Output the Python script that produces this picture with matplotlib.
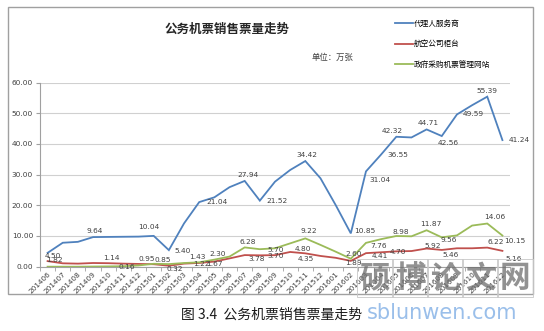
import numpy as np
import matplotlib
matplotlib.use('Agg')
import matplotlib.pyplot as plt
from matplotlib.patches import Rectangle

plt.rcParams['font.family'] = ['Noto Sans CJK SC', 'DejaVu Sans']

# Data (万张)
months = ['201406', '201407', '201408', '201409', '201410', '201411', '201412',
          '201501', '201502', '201503', '201504', '201505', '201506', '201507',
          '201508', '201509', '201510', '201511', '201512', '201601', '201602',
          '201603', '201604', '201605', '201606', '201607', '201608', '201609',
          '201610', '201611', '201612']
agent = [4.50, 7.8, 8.1, 9.64, 9.7, 9.75, 9.8, 10.04, 5.40, 14.1, 21.04, 22.6,
         25.9, 27.94, 21.52, 27.7, 31.5, 34.42, 28.8, 20.1, 10.85, 31.04, 36.55,
         42.32, 42.1, 44.71, 42.56, 49.59, 52.6, 55.39, 41.24]
airline = [1.82, 1.1, 1.0, 1.2, 1.14, 1.0, 0.9, 0.8, 0.32, 1.0, 1.22, 1.67,
           2.7, 3.78, 3.70, 3.75, 4.80, 4.35, 3.5, 2.9, 1.89, 4.41, 4.70,
           5.0, 5.1, 5.92, 5.46, 6.0, 6.0, 6.22, 5.16]
gov_site = [0.0, 0.0, 0.0, 0.05, 0.1, 0.16, 0.4, 0.95, 0.85, 1.2, 1.43, 2.30,
            3.3, 6.28, 5.70, 6.0, 7.6, 9.22, 7.1, 4.9, 2.60, 7.76, 8.98,
            10.0, 9.9, 11.87, 9.56, 10.2, 13.4, 14.06, 10.15]
series_names = ['代理人服务商', '航空公司柜台', '政府采购机票管理网站']

# which points carry a data label
agent_lbl = [0, 3, 7, 8, 10, 13, 14, 17, 20, 21, 22, 23, 25, 26, 27, 29, 30]
airline_lbl = [0, 4, 8, 10, 11, 13, 14, 16, 17, 20, 21, 22, 25, 26, 29, 30]
gov_lbl = [5, 7, 8, 10, 11, 13, 14, 17, 20, 21, 22, 25, 26, 29, 30]

# label offsets in pixels (dx right, dy down)
agent_off = {0: (5, 3), 3: (2, -6), 7: (-5, -9), 8: (14, 1), 10: (18, 0),
             13: (3, -6), 14: (17, 0), 17: (2, -6), 20: (14, -2), 21: (14, 9),
             22: (17, 1), 23: (-4, -6), 25: (2, -6), 26: (6, 7), 27: (16, 0),
             29: (0, -6), 30: (17, 0)}
airline_off = {0: (7, -1), 4: (3, -5), 8: (6, 3), 10: (2, 1), 11: (0, 2),
               13: (12, 4), 14: (16, 1), 16: (13, -3), 17: (0, 6), 20: (3, 2),
               21: (14, 3), 22: (17, 0), 25: (6, -3), 26: (9, 5), 29: (8, -6),
               30: (11, 8)}
gov_off = {5: (3, 1), 7: (-7, -5), 8: (-6, -4), 10: (-2, -5), 11: (3, -6),
           13: (3, -5), 14: (16, 1), 17: (3, -7), 20: (3, -5), 21: (13, 3),
           22: (20, -7), 25: (4, -6), 26: (7, 3), 29: (7, -7), 30: (12, 5)}

W, H = 544, 331
fig = plt.figure(figsize=(W / 100, H / 100), dpi=100)
ax = fig.add_axes([40 / W, 1 - 266.7 / H, 470 / W, (266.7 - 82.5) / H])

x = np.arange(len(months))
colors = ['#4F81BD', '#C0504D', '#9BBB59']
all_series = [agent, airline, gov_site]
for vals, col, name in zip(all_series, colors, series_names):
    ax.plot(x, vals, color=col, lw=1.3, label=name, solid_joinstyle='miter')

px = 0.72  # pixel -> points
for vals, idxs, offs in [(agent, agent_lbl, agent_off), (airline, airline_lbl, airline_off),
                         (gov_site, gov_lbl, gov_off)]:
    for i in idxs:
        dx, dy = offs[i]
        ax.annotate(f"{vals[i]:.2f}", (x[i], vals[i]), xytext=(dx * px, -dy * px),
                    textcoords='offset points', ha='center', va='center',
                    fontsize=5.3, color='#404040', family=['DejaVu Sans'])

ax.set_xlim(-0.5, len(months) - 0.5)
ax.set_ylim(0, 60)
ax.set_yticks(np.arange(0, 61, 10))
ax.set_yticklabels([f"{v:.2f}" for v in np.arange(0, 61, 10)], fontsize=5.3, color='#404040',
                   family=['DejaVu Sans'])
ax.set_xticks(x)
ax.set_xticklabels(months, rotation=45, ha='right', rotation_mode='anchor',
                   fontsize=5.2, color='#404040', family=['DejaVu Sans'])
ax.tick_params(axis='x', length=0, pad=3)
ax.tick_params(axis='y', length=3, color='#A0A0A0', pad=2)
ax.set_xticks(np.arange(-0.5, len(months), 1), minor=True)
ax.tick_params(axis='x', which='minor', length=3, color='#A0A0A0')
ax.grid(axis='y', color='#D0D0D0', lw=0.8)
ax.set_axisbelow(True)
for s in ['top', 'right']:
    ax.spines[s].set_visible(False)
ax.spines['left'].set_color('#A0A0A0')
ax.spines['bottom'].set_color('#A0A0A0')

# title, unit, legend
fig.text(227 / W, 1 - 29 / H, '公务机票销售票量走势', ha='center', va='center',
         fontsize=9, fontweight='bold', color='#262626')
fig.text(333 / W, 1 - 57 / H, '单位：万张', ha='center', va='center',
         fontsize=6, color='#404040')
handles, labels = ax.get_legend_handles_labels()
fig.legend(handles, labels, loc='upper left', bbox_to_anchor=(392 / W, 1 - 17 / H),
           frameon=False, fontsize=5.5, handlelength=2.3, handletextpad=0.2,
           labelspacing=1.6, borderaxespad=0)

# chart frame
fig.patches.append(Rectangle((8 / W, 1 - 294 / H), 525 / W, 287 / H, transform=fig.transFigure,
                             fill=False, edgecolor='#A0A0A0', lw=1))

# caption
fig.text(272 / W, 1 - 315 / H, '图 3.4  公务机票销售票量走势', ha='center', va='center',
         fontsize=10, color='#1a1a1a')

# watermark
for k, ch in enumerate('硕博论文网'):
    fig.text((375 + k * 35) / W, 1 - 278 / H, ch, ha='center', va='center', fontsize=22,
             color='#6e6e6e', alpha=0.75, fontweight='bold',
             bbox=dict(boxstyle='square,pad=0.1', fc='none', ec='#C8C8C8', lw=0.6))
fig.text(442 / W, 1 - 313 / H, 'sblunwen.com', ha='center', va='center', fontsize=15,
         color='#8FB8E8', alpha=0.9, family=['DejaVu Sans'])

plt.savefig('out.png', dpi=100)
plt.close()
